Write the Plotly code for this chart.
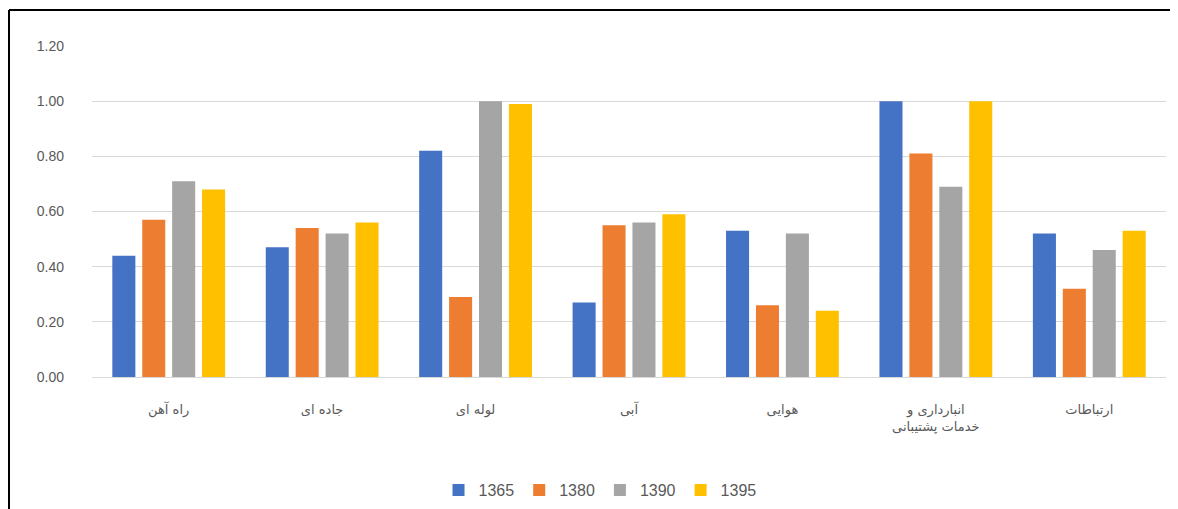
import plotly.graph_objects as go

categories = ["راه آهن", "جاده ای", "لوله ای", "آبی", "هوایی", "انبارداری و<br>خدمات پشتیبانی", "ارتباطات"]
series_names = ["1365", "1380", "1390", "1395"]
v1365 = [0.44, 0.47, 0.82, 0.27, 0.53, 1.00, 0.52]
v1380 = [0.57, 0.54, 0.29, 0.55, 0.26, 0.81, 0.32]
v1390 = [0.71, 0.52, 1.00, 0.56, 0.52, 0.69, 0.46]
v1395 = [0.68, 0.56, 0.99, 0.59, 0.24, 1.00, 0.53]
colors = ["#4472C4", "#ED7D31", "#A5A5A5", "#FFC000"]
tick_vals = [0, 0.2, 0.4, 0.6, 0.8, 1.0, 1.2]
tick_text = ["0.00", "0.20", "0.40", "0.60", "0.80", "1.00", "1.20"]

fig = go.Figure()
for name, vals, col in zip(series_names, [v1365, v1380, v1390, v1395], colors):
    fig.add_trace(go.Bar(x=categories, y=vals, name=name, marker_color=col,
                         marker_line_width=0))

# page body adds an 8px offset, so the figure is sized to fit the window
W, H = 1170, 501
L, R, T, B = 84, 12, 38, 132
fig.update_layout(
    width=W, height=H,
    margin=dict(l=L, r=R, t=T, b=B, autoexpand=False),
    paper_bgcolor="white", plot_bgcolor="white",
    barmode="group", bargap=0.22, bargroupgap=0.23,
    font=dict(family="DejaVu Sans, Liberation Sans, sans-serif", color="#595959", size=13),
    legend=dict(orientation="h", x=0.506, xanchor="center", xref="container",
                y=1 - 482 / H, yanchor="middle", yref="container",
                font=dict(family="Liberation Sans, sans-serif", size=16, color="#595959"),
                itemwidth=30, tracegroupgap=0),
    showlegend=True,
)
fig.update_yaxes(range=[0, 1.2], tickvals=tick_vals, ticktext=tick_text, automargin=False,
                 showgrid=True, gridcolor="#D9D9D9", gridwidth=1, zeroline=False,
                 showline=False, ticks="", ticklabelstandoff=27,
                 tickfont=dict(family="Liberation Sans, sans-serif", size=14, color="#595959"))
fig.update_xaxes(showline=True, linecolor="#D9D9D9", linewidth=1, ticks="", automargin=False,
                 ticklabelstandoff=20, tickfont=dict(size=13, color="#595959"))

# frame lines of the cropped image (paper coords computed from pixel positions)
pw, ph = W - L - R, H - T - B
fx = (1 - L) / pw
fy_top = (H - B - 2) / ph
fy_bot = (H - B - H) / ph
fig.add_shape(type="line", xref="paper", yref="paper", x0=fx, x1=(W - L) / pw, y0=fy_top, y1=fy_top,
              line=dict(color="black", width=2))
fig.add_shape(type="line", xref="paper", yref="paper", x0=fx, x1=fx, y0=fy_top, y1=fy_bot,
              line=dict(color="black", width=2))

fig.write_html("out.html")
